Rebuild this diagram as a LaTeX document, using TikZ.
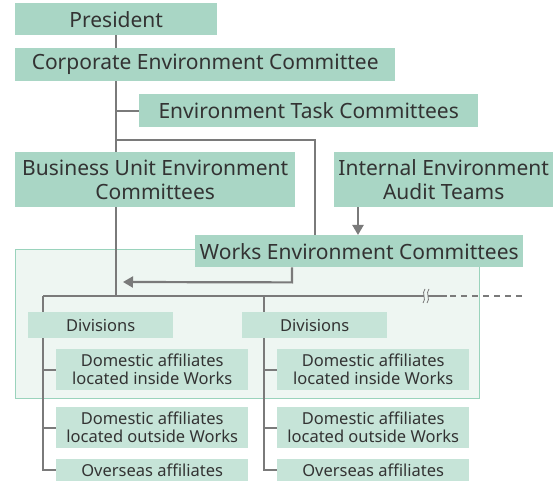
\documentclass[tikz,border=0pt]{standalone}
\usepackage{fontspec}
\setmainfont{Noto Sans}
\usepackage{tikz}
\usetikzlibrary{arrows.meta, positioning, calc}
\usepackage{xcolor}
\definecolor{boxgreen}{HTML}{A9D6C5}
\definecolor{subgreen}{HTML}{C6E4D8}
\definecolor{worksbg}{HTML}{EEF6F2}
\definecolor{worksline}{HTML}{9AD3BC}
\definecolor{linegray}{HTML}{7A7A7A}
\definecolor{textgray}{HTML}{333333}
\pgfdeclarelayer{back}
\pgfdeclarelayer{lines}
\pgfsetlayers{back,lines,main}

\begin{document}
\begin{tikzpicture}[
    x=1pt, y=-1pt,
    box/.style={rectangle, fill=boxgreen, anchor=north west, inner sep=0pt, align=center, text=textgray, font=\fontsize{21}{24}\selectfont},
    subbox/.style={rectangle, fill=subgreen, anchor=north west, inner sep=0pt, align=center, text=textgray, font=\fontsize{16.5}{18}\selectfont},
    conn/.style={draw=linegray, line width=2.2pt},
    arr/.style={conn, -{Triangle[length=10pt, width=11pt]}}
]
    \useasboundingbox (0,0) rectangle (555,481);

    % upper part
    \node (pres)  [box, minimum width=202pt, minimum height=32pt] at (15,3) {President};
    \node (corp)  [box, minimum width=380pt, minimum height=33pt] at (15,48) {Corporate Environment Committee};
    \node (task)  [box, minimum width=339pt, minimum height=33pt] at (139,94) {Environment Task Committees};
    \node (bu)    [box, minimum width=280pt, minimum height=55pt] at (15,152) {Business Unit Environment\\Committees};
    \node (audit) [box, minimum width=219pt, minimum height=55pt] at (334,152) {Internal Environment\\Audit Teams};
    \node (works) [box, minimum width=328pt, minimum height=32pt] at (195,235) {Works Environment Committees};

    % lower part, left
    \node (divL) [subbox, minimum width=145pt, minimum height=26pt] at (28,312) {Divisions};
    \node (inL)  [subbox, minimum width=192pt, minimum height=41pt] at (56,349) {Domestic affiliates\\located inside Works};
    \node (outL) [subbox, minimum width=192pt, minimum height=41pt] at (56,407) {Domestic affiliates\\located outside Works};
    \node (ovL)  [subbox, minimum width=192pt, minimum height=22pt] at (56,459) {Overseas affiliates};
    % lower part, right
    \node (divR) [subbox, minimum width=145pt, minimum height=26pt] at (242,312) {Divisions};
    \node (inR)  [subbox, minimum width=192pt, minimum height=41pt] at (277,349) {Domestic affiliates\\located inside Works};
    \node (outR) [subbox, minimum width=192pt, minimum height=41pt] at (277,407) {Domestic affiliates\\located outside Works};
    \node (ovR)  [subbox, minimum width=192pt, minimum height=22pt] at (277,459) {Overseas affiliates};

    \coordinate (spine) at (116,296);
    \coordinate (tap) at (315,140);
    \coordinate (legL) at (43,296);
    \coordinate (legR) at (264,296);
    \coordinate (cut) at (426,296);
    \coordinate (auditout) at (358,207);

    \begin{pgfonlayer}{back}
        \draw[draw=worksline, fill=worksbg, line width=1pt] (15,250) rectangle (479,399);
    \end{pgfonlayer}

    \begin{pgfonlayer}{lines}
        \draw[conn] (pres.south) -- (pres.south |- corp.north);
        \draw[conn] (corp.south -| spine) -- (spine);
        \draw[conn] (spine |- task.west) -- (task.west);
        \draw[conn] (tap -| spine) -- (tap) -- (tap |- works.north);
        \draw[arr] (auditout) -- (auditout |- works.north);
        \draw[arr] ([xshift=97pt]works.south west) -- ++(0,15) -- ([xshift=7pt]spine |- 0,282);
        % main horizontal with break
        \draw[conn] (legL) -- ([xshift=-2pt]cut);
        \draw[conn] ([xshift=2pt]cut) -- ([xshift=21pt]cut);
        \draw[conn, line width=1.6pt, dash pattern=on 6pt off 5pt] ([xshift=24pt]cut) -- (523,296);
        \draw[linegray, line width=0.8pt] ([xshift=-3pt,yshift=-7pt]cut) .. controls ([xshift=1pt,yshift=-3pt]cut) and ([xshift=-5pt,yshift=3pt]cut) .. ([xshift=-1pt,yshift=7pt]cut);
        \draw[linegray, line width=0.8pt] ([xshift=1pt,yshift=-7pt]cut) .. controls ([xshift=5pt,yshift=-3pt]cut) and ([xshift=-1pt,yshift=3pt]cut) .. ([xshift=3pt,yshift=7pt]cut);
        % legs
        \draw[conn] (legL) -- (legL |- ovL.west) -- (ovL.west);
        \draw[conn] (legL |- inL.west) -- (inL.west);
        \draw[conn] (legL |- outL.west) -- (outL.west);
        \draw[conn] (legR) -- (legR |- ovR.west) -- (ovR.west);
        \draw[conn] (legR |- inR.west) -- (inR.west);
        \draw[conn] (legR |- outR.west) -- (outR.west);
    \end{pgfonlayer}
\end{tikzpicture}
\end{document}
